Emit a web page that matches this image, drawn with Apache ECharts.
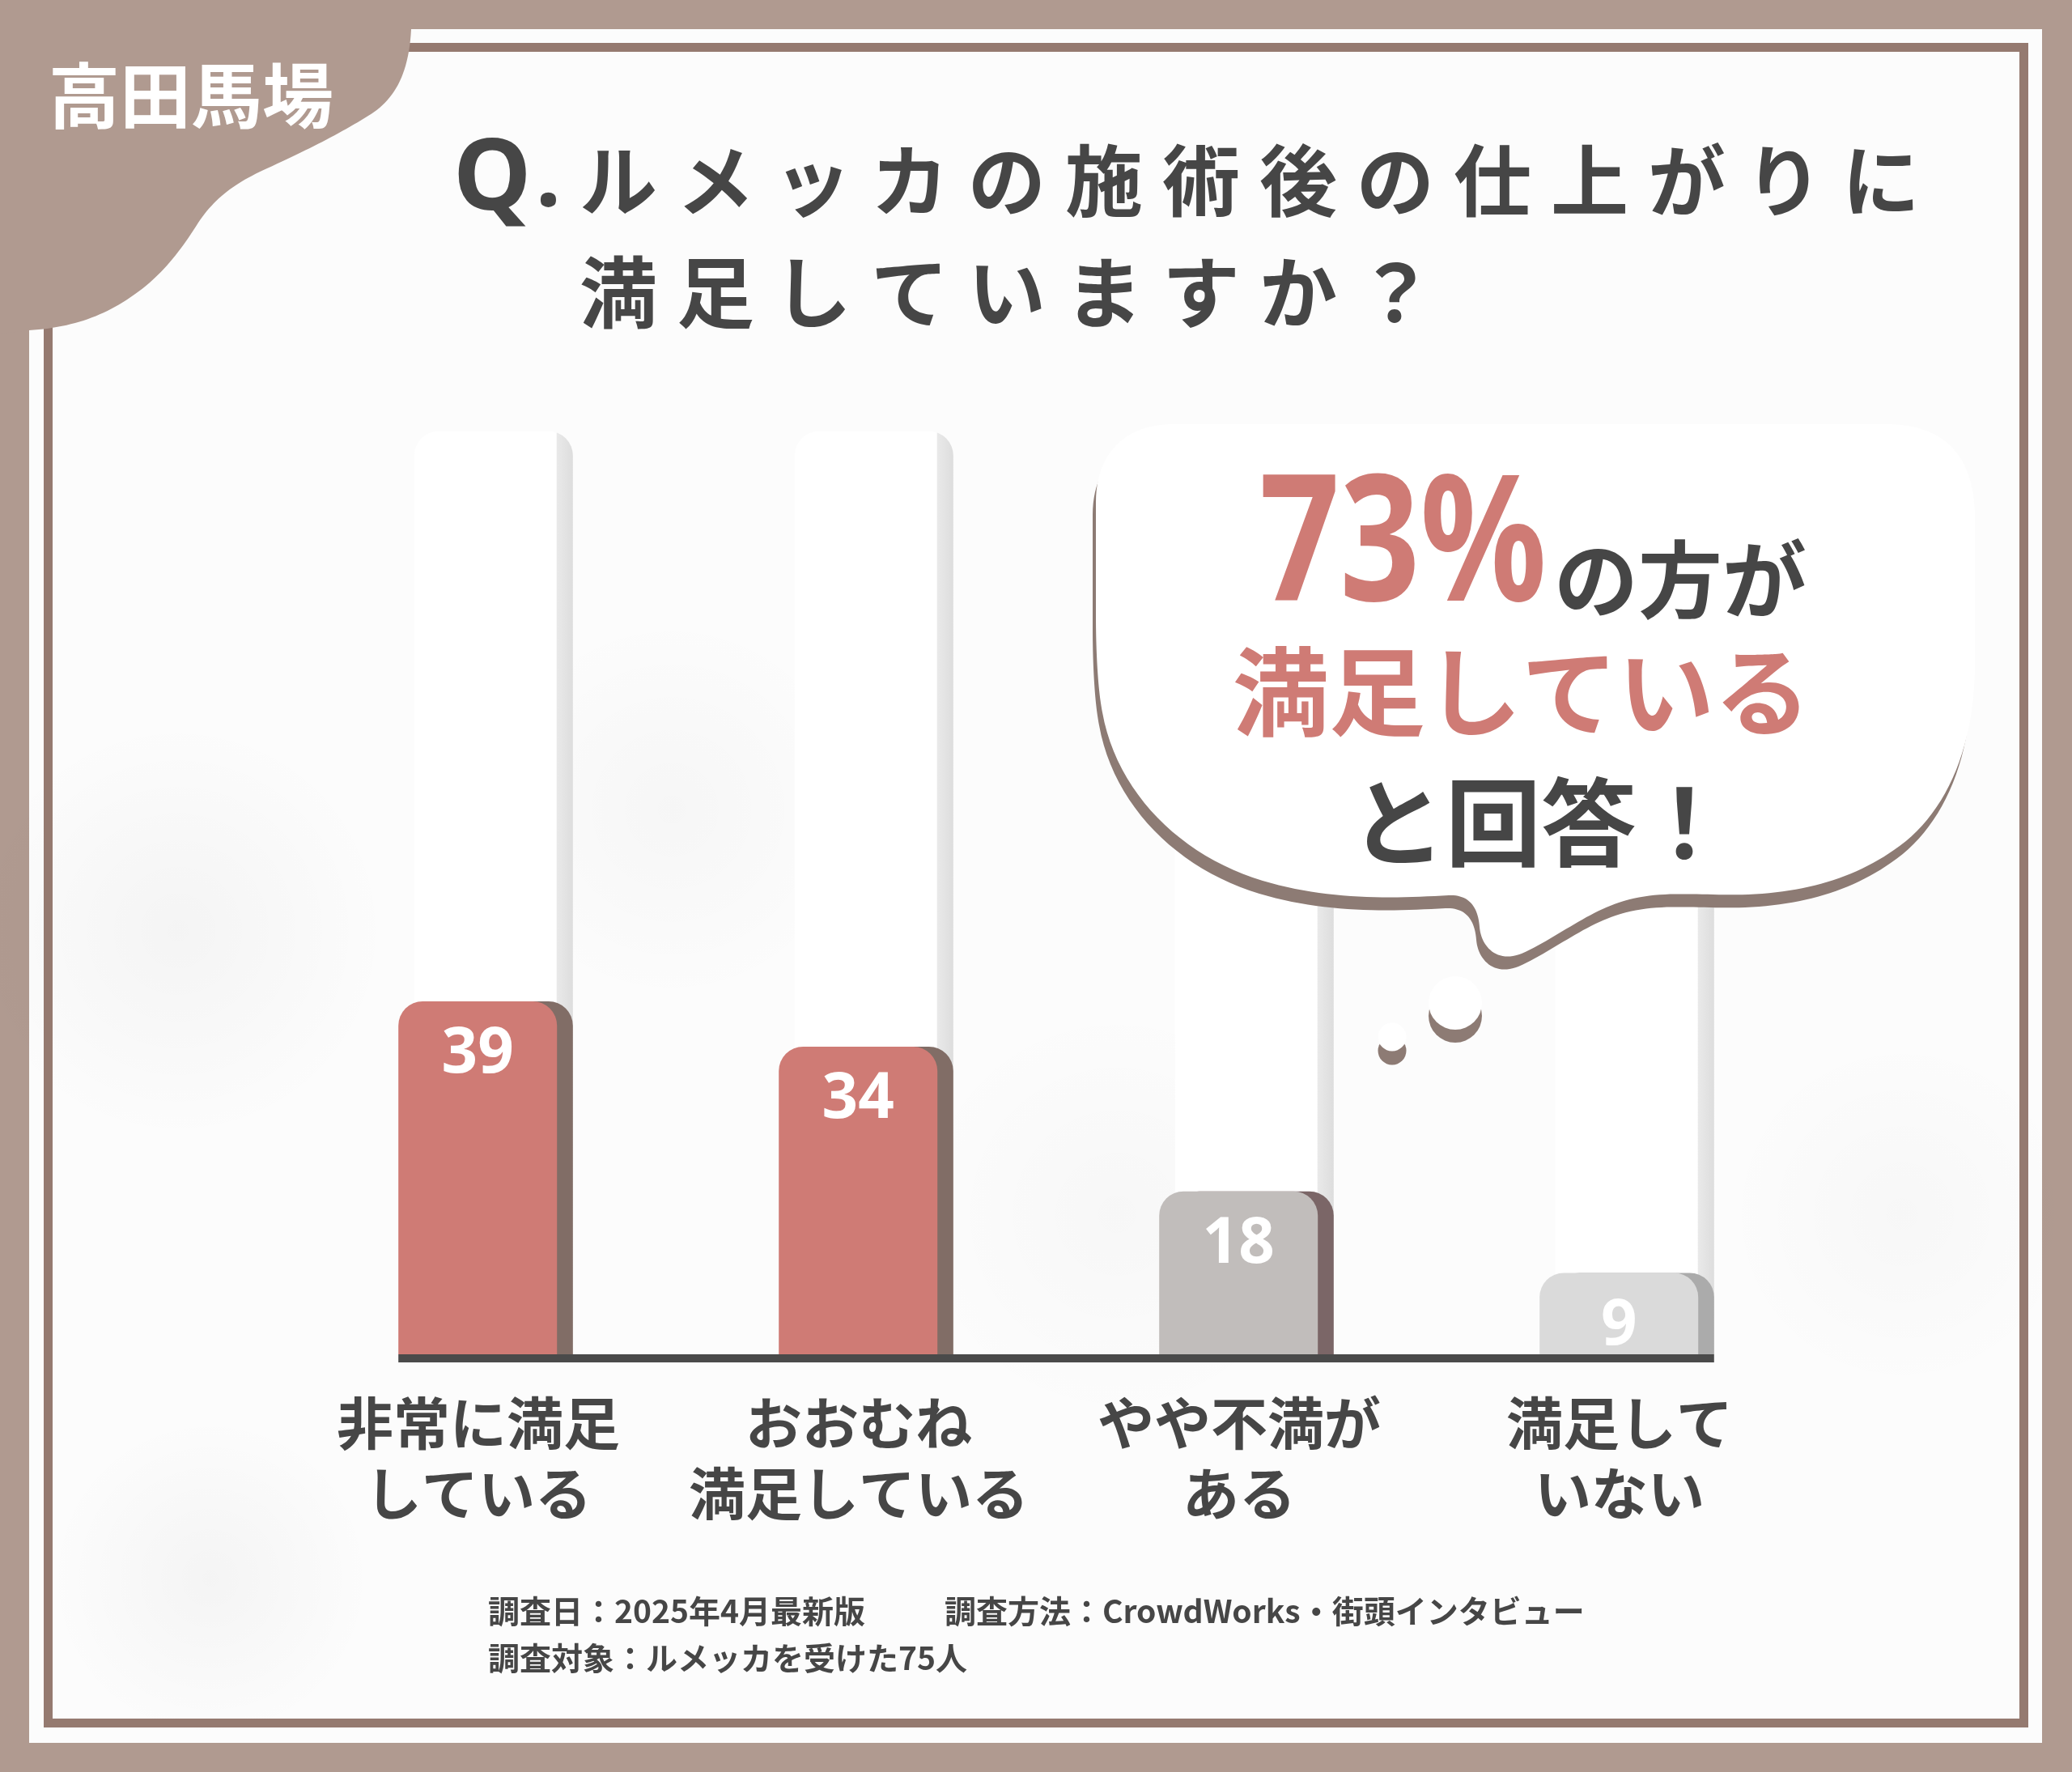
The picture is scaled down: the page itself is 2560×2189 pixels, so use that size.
<!DOCTYPE html>
<html><head><meta charset="utf-8">
<script src="https://cdn.jsdelivr.net/npm/echarts@6/dist/echarts.min.js"></script>
<style>html,body{margin:0;padding:0;background:#b09a90;}#chart{width:2560px;height:2189px;}</style>
</head><body><div id="chart"></div>
<script>
// ---- data ----
const categories = ['非常に満足\nしている', 'おおむね\n満足している', 'やや不満が\nある', '満足して\nいない'];
const values = [39, 34, 18, 9];
const yMax = 102;
const badge = '高田馬場';
const titleQ = 'Q';
const titleLine1 = 'ルメッカの施術後の仕上がりに';
const titleLine2 = '満足していますか？';
const calloutPct = '73%';
const calloutA = 'の方が';
const calloutB = '満足している';
const calloutC = 'と回答！';
const footA = '調査日：2025年4月最新版';
const footB = '調査方法：CrowdWorks・街頭インタビュー';
const footC = '調査対象：ルメッカを受けた75人';

// ---- styles ----
const mainColors = ['#cf7b75', '#cf7b75', '#c1bdbb', '#dadada'];
const shadowColors = ['#816d66', '#816d66', '#7b6667', '#ababab'];
const JP = '"Noto Sans CJK JP", "Noto Sans", sans-serif';
const NUM = '"Noto Sans", sans-serif';
const DARK = '#464646';
const RED = '#cf7b75';

function spaced(idp, str, x, y, size, adv, color, z) {
  return Array.from(str).map((ch, i) => ({
    type: 'text', id: idp + i, z: z,
    style: { text: ch, x: x + i * adv, y: y, fill: color, font: 'bold ' + size + 'px ' + JP,
      textAlign: 'left', textVerticalAlign: 'middle' }
  }));
}

// simple M/L/C path -> polygon points (decorative shapes only)
function pathToPoints(d, dx, dy) {
  const tok = d.match(/[MLCZ]|-?\d+(\.\d+)?/g);
  const pts = []; let i = 0, cur = [0, 0], cmd = null;
  const num = () => parseFloat(tok[i++]);
  while (i < tok.length) {
    if (/[MLCZ]/.test(tok[i])) { cmd = tok[i++]; if (cmd === 'Z') continue; }
    if (cmd === 'M' || cmd === 'L') { cur = [num(), num()]; pts.push(cur); }
    else if (cmd === 'C') {
      const c1 = [num(), num()], c2 = [num(), num()], e = [num(), num()], s = cur;
      for (let k = 1; k <= 24; k++) {
        const t = k / 24, u = 1 - t;
        pts.push([u*u*u*s[0] + 3*u*u*t*c1[0] + 3*u*t*t*c2[0] + t*t*t*e[0],
                  u*u*u*s[1] + 3*u*u*t*c1[1] + 3*u*t*t*c2[1] + t*t*t*e[1]]);
      }
      cur = e;
    } else i++;
  }
  return pts.map(p => [p[0] + (dx || 0), p[1] + (dy || 0)]);
}

const bubblePath = 'M1450 524 L2330 524 C2400 524 2440 560 2440 640 L2440 820 ' +
  'C2440 930 2400 1010 2340 1050 C2290 1085 2230 1102 2160 1105 C2100 1107 2050 1098 2000 1115 ' +
  'C1960 1128 1920 1160 1880 1178 C1850 1190 1830 1170 1828 1145 C1826 1120 1815 1105 1790 1106 ' +
  'C1720 1110 1640 1112 1560 1088 C1460 1058 1380 980 1362 880 C1356 850 1354 800 1354 760 ' +
  'L1354 620 C1354 560 1390 524 1450 524 Z';
const blobPath = 'M0 0 L508 0 L508 36 C505 95 485 125 455 143 C420 165 380 185 330 208 ' +
  'C290 226 265 245 245 275 C220 315 195 345 160 368 C125 392 85 405 36 408 L0 412 Z';

function blot(id, cx, cy, rx, ry, a) {
  return { type: 'ellipse', id: id, z: -18, silent: true,
    shape: { cx: cx, cy: cy, rx: rx, ry: ry },
    style: { fill: new echarts.graphic.RadialGradient(0.5, 0.5, 0.5, [
      { offset: 0, color: 'rgba(0,0,0,' + a + ')' }, { offset: 1, color: 'rgba(0,0,0,0)' }]) } };
}

const graphics = [
  { type: 'rect', id: 'page', z: -20, shape: { x: 0, y: 0, width: 2560, height: 2189 }, style: { fill: '#b09a90' } },
  { type: 'rect', id: 'panel', z: -19, shape: { x: 36, y: 36, width: 2487, height: 2117 }, style: { fill: '#fcfcfc' } },
  blot('b1', 220, 1150, 260, 560, 0.03),
  blot('b2', 830, 1000, 240, 520, 0.025),
  blot('b3', 1380, 1500, 300, 260, 0.02),
  blot('b4', 260, 1950, 340, 200, 0.03),
  blot('b5', 2350, 1500, 220, 420, 0.02),
  { type: 'rect', id: 'border', z: -17, shape: { x: 59.5, y: 58.5, width: 2441, height: 2070 },
    style: { fill: 'none', stroke: '#957a70', lineWidth: 11 } },
  { type: 'polygon', id: 'blob', z: -16, shape: { points: pathToPoints(blobPath) }, style: { fill: '#b09a90' } },
  { type: 'text', id: 'badge', z: -15, style: { text: badge, x: 236, y: 118, fill: '#ffffff',
      font: 'bold 88px ' + JP, textAlign: 'center', textVerticalAlign: 'middle' } },
  // title
  { type: 'text', id: 'tq', z: 20, style: { text: titleQ, x: 560, y: 224, fill: DARK,
      font: 'bold 122px "Noto Sans", sans-serif', textAlign: 'left', textVerticalAlign: 'middle' } },
  { type: 'text', id: 'tdot', z: 20, style: { text: '.', x: 662, y: 224, fill: DARK,
      font: 'bold 110px "Noto Sans", sans-serif', textAlign: 'left', textVerticalAlign: 'middle' } },
  ...spaced('t1_', titleLine1, 716, 223, 96, 120, DARK, 20),
  ...spaced('t2_', titleLine2, 716, 361, 96, 120, DARK, 20),
  // bubble
  { type: 'polygon', id: 'bubShadow', z: 10, shape: { points: pathToPoints(bubblePath, -4, 16) }, style: { fill: '#8d7b74' } },
  { type: 'polygon', id: 'bub', z: 11, shape: { points: pathToPoints(bubblePath) }, style: { fill: '#ffffff' } },
  { type: 'circle', id: 'd1s', z: 10, shape: { cx: 1798, cy: 1255, r: 33 }, style: { fill: '#8d7b74' } },
  { type: 'circle', id: 'd1', z: 11, shape: { cx: 1798, cy: 1239, r: 33 }, style: { fill: '#ffffff' } },
  { type: 'circle', id: 'd2s', z: 10, shape: { cx: 1720, cy: 1298, r: 17.5 }, style: { fill: '#8d7b74' } },
  { type: 'circle', id: 'd2', z: 11, shape: { cx: 1720, cy: 1281, r: 17.5 }, style: { fill: '#ffffff' } },
  { type: 'text', id: 'c73', z: 12, x: 1556, y: 680, scaleX: 0.8,
    style: { text: calloutPct, x: 0, y: 0, fill: RED,
      font: 'bold 217px ' + NUM, textAlign: 'left', textVerticalAlign: 'middle' } },
  { type: 'text', id: 'cA', z: 12, style: { text: calloutA, x: 1920, y: 716, fill: DARK,
      font: 'bold 104px ' + JP, textAlign: 'left', textVerticalAlign: 'middle' } },
  { type: 'text', id: 'cB', z: 12, style: { text: calloutB, x: 1880, y: 855, fill: RED,
      font: 'bold 119px ' + JP, textAlign: 'center', textVerticalAlign: 'middle' } },
  { type: 'text', id: 'cC', z: 12, style: { text: calloutC, x: 1904, y: 1016, fill: DARK,
      font: 'bold 118px ' + JP, textAlign: 'center', textVerticalAlign: 'middle' } },
  // footer
  { type: 'text', id: 'fA', z: 12, style: { text: footA, x: 603, y: 1990, fill: DARK,
      font: 'bold 39px ' + JP, textAlign: 'left', textVerticalAlign: 'middle' } },
  { type: 'text', id: 'fB', z: 12, style: { text: footB, x: 1167, y: 1990, fill: DARK,
      font: 'bold 39px ' + JP, textAlign: 'left', textVerticalAlign: 'middle' } },
  { type: 'text', id: 'fC', z: 12, style: { text: footC, x: 603, y: 2048, fill: DARK,
      font: 'bold 39px ' + JP, textAlign: 'left', textVerticalAlign: 'middle' } }
];

const chart = echarts.init(document.getElementById('chart'), null, { renderer: 'canvas' });
const BAR_W = 196;
const option = {
  animation: false,
  backgroundColor: 'transparent',
  grid: { left: 365, right: 315, top: 2189 - 516 - yMax * 11.18, bottom: 516, containLabel: false },
  xAxis: {
    type: 'category', data: categories,
    axisLine: { show: false }, axisTick: { show: false }, splitLine: { show: false },
    axisLabel: { interval: 0, margin: 42, fontSize: 70, lineHeight: 87, fontWeight: 'bold',
      fontFamily: JP, color: DARK, padding: [0, 18, 0, 0] }
  },
  yAxis: { type: 'value', min: 0, max: yMax, show: false },
  series: [
    { type: 'bar', name: 'main', z: 3, barWidth: BAR_W, barGap: '-90%',
      data: values.map((v, i) => ({ value: v, itemStyle: { color: mainColors[i] } })),
      itemStyle: { borderRadius: [30, 30, 0, 0] },
      label: { show: true, position: 'insideTop', distance: 27, color: '#ffffff', fontSize: 78,
        fontWeight: 'bold', fontFamily: NUM } },
    { type: 'bar', name: 'shadow', z: 2, barWidth: BAR_W, barGap: '-90%',
      data: values.map((v, i) => ({ value: v, itemStyle: { color: shadowColors[i] } })),
      itemStyle: { borderRadius: [30, 30, 0, 0] },
      showBackground: true,
      backgroundStyle: { borderRadius: [30, 30, 0, 0], color: new echarts.graphic.LinearGradient(0, 0, 1, 0, [
        { offset: 0, color: '#ffffff' }, { offset: 0.895, color: '#ffffff' },
        { offset: 0.9, color: '#e9e9e9' }, { offset: 1, color: '#dddddd' }]) } }
  ],
  graphic: { elements: graphics }
};
chart.setOption(option);

// baseline spanning from first bar's left edge to last shadow's right edge, via the chart's scales
const p0 = chart.convertToPixel({ gridIndex: 0 }, [0, 0]);
const p3 = chart.convertToPixel({ gridIndex: 0 }, [categories.length - 1, 0]);
const half = BAR_W * 1.1 / 2;
chart.setOption({ graphic: { elements: [
  { type: 'rect', id: 'baseline', z: 6, shape: { x: p0[0] - half, y: p0[1], width: (p3[0] + half) - (p0[0] - half), height: 10 },
    style: { fill: '#4a4a4a' } }
] } });
</script>
</body></html>
